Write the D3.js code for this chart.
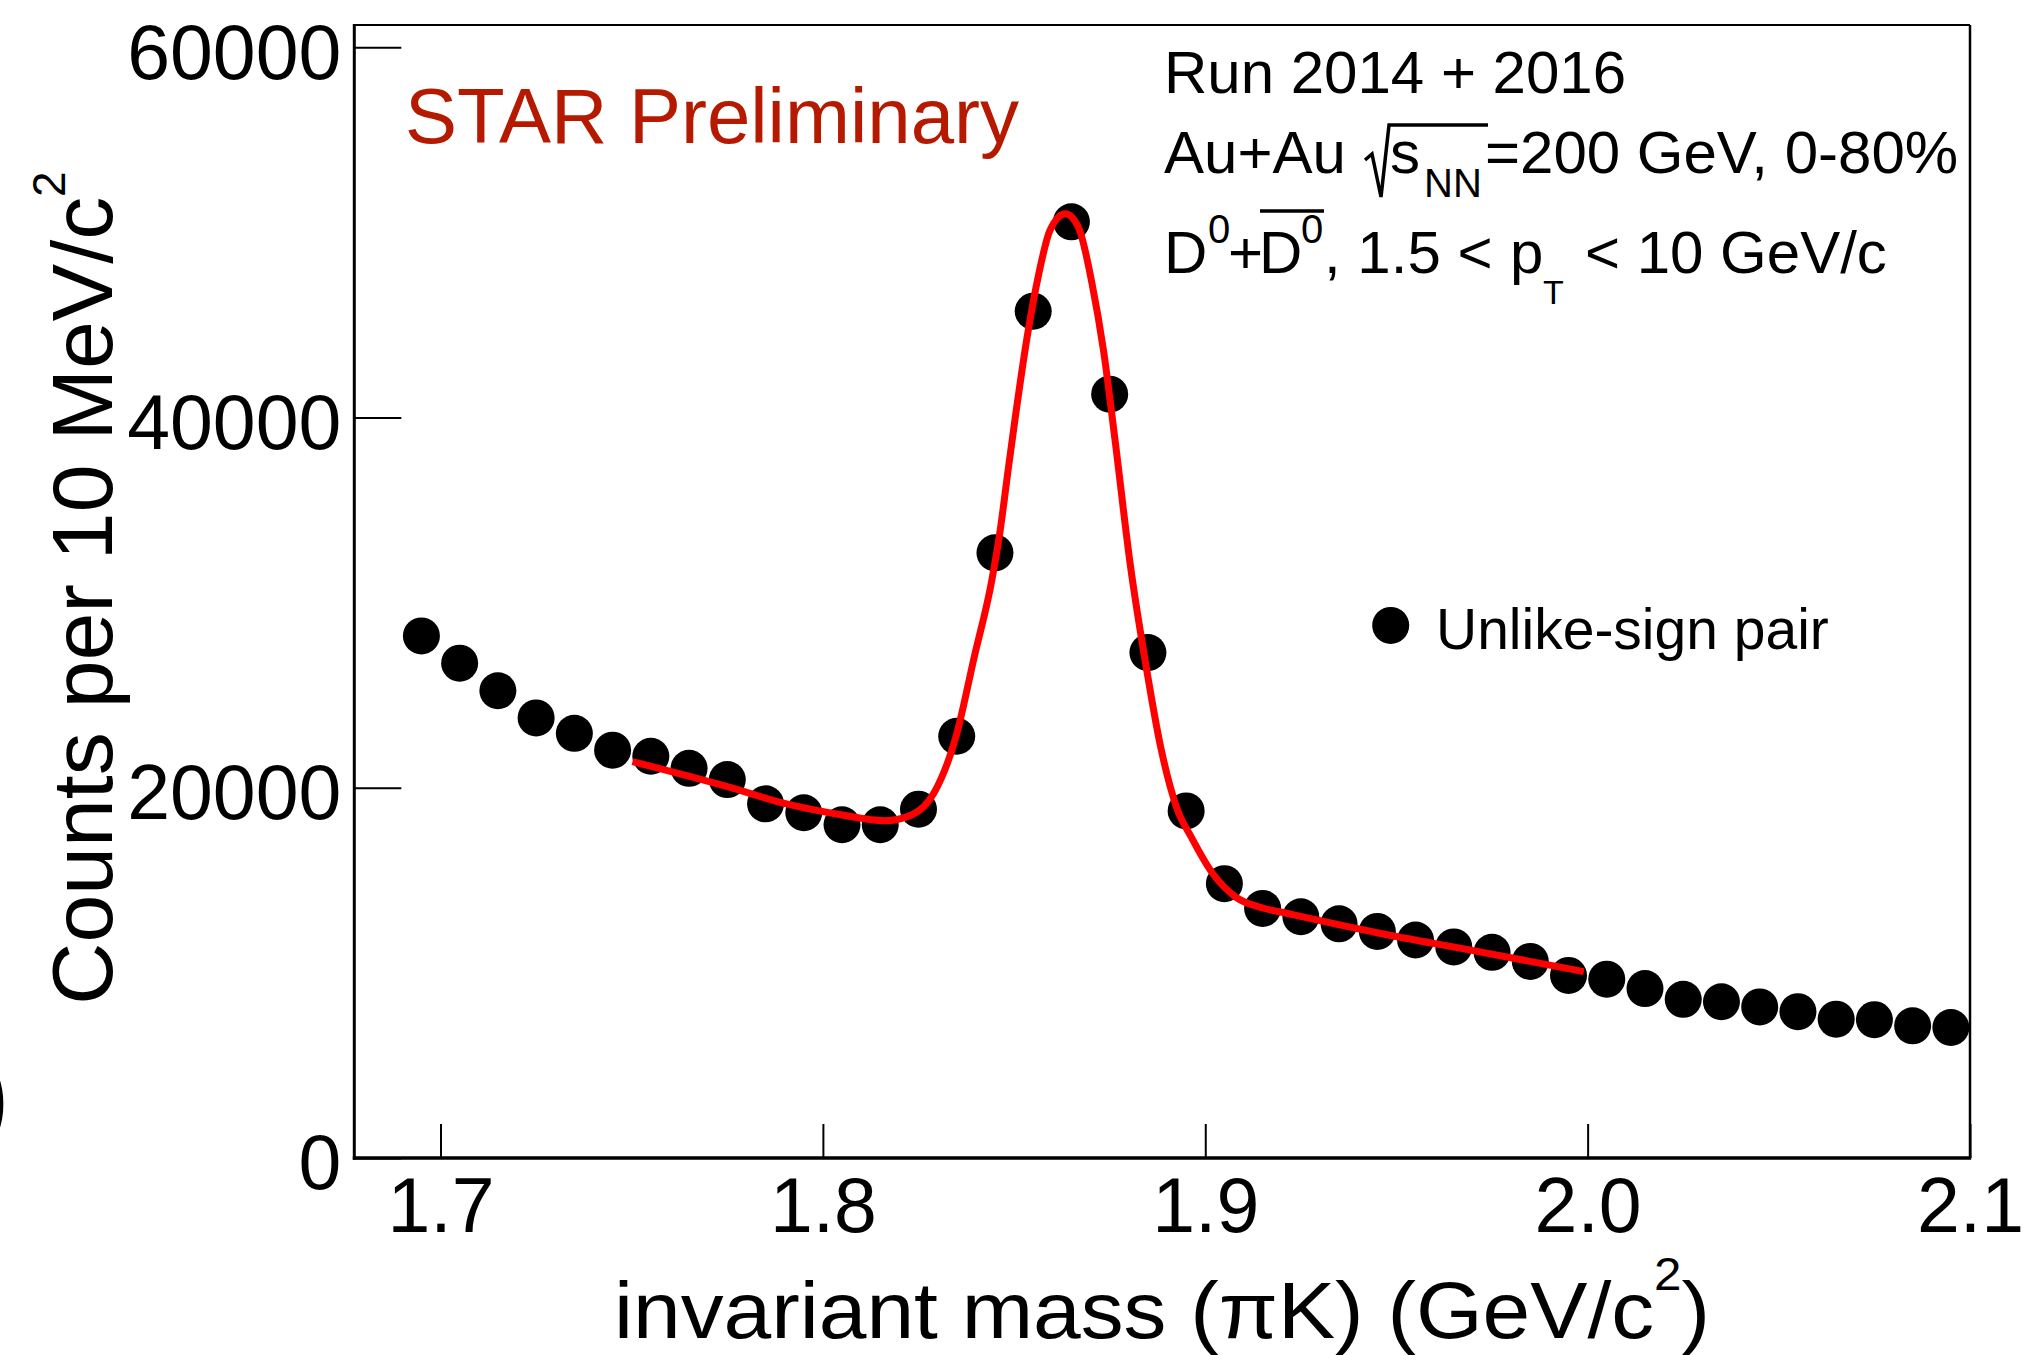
<!DOCTYPE html>
<html>
<head>
<meta charset="utf-8">
<script src="https://cdn.jsdelivr.net/npm/d3@7"></script>
<style>
  html, body { margin: 0; padding: 0; background: #fff; }
  svg { display: block; }
  text { font-family: "Liberation Sans", Arial, Helvetica, sans-serif; }
</style>
</head>
<body>
<svg id="chart" width="2039" height="1355"></svg>
<script>
// ---- data ----
const massBins = [1.695, 1.705, 1.715, 1.725, 1.735, 1.745, 1.755, 1.765, 1.775, 1.785,
                  1.795, 1.805, 1.815, 1.825, 1.835, 1.845, 1.855, 1.865, 1.875, 1.885,
                  1.895, 1.905, 1.915, 1.925, 1.935, 1.945, 1.955, 1.965, 1.975, 1.985,
                  1.995, 2.005, 2.015, 2.025, 2.035, 2.045, 2.055, 2.065, 2.075, 2.085, 2.095];
const unlikeSignCounts = [28200, 26730, 25240, 23770, 22940, 22030, 21700, 21050, 20440, 19130,
                          18650, 18000, 18000, 18840, 22780, 32690, 45740, 50570, 41260, 27300,
                          18750, 14820, 13480, 13030, 12650, 12240, 11775, 11400, 11110, 10620,
                          9860, 9660, 9150, 8570, 8440, 8160, 7904, 7500, 7470, 7140, 7050];
// fit curve (Gaussian + background)
const fitMass = [1.7502, 1.775, 1.7905, 1.805, 1.8162, 1.8232, 1.829, 1.8348, 1.8396, 1.8442,
                 1.8464, 1.8484, 1.8503, 1.8534, 1.8564, 1.8594, 1.8634, 1.8669, 1.8704, 1.8734,
                 1.8764, 1.8804, 1.8844, 1.8884, 1.8924, 1.8967, 1.9019, 1.9078, 1.9153, 1.9212,
                 1.9449, 1.9701, 1.999];
const fitCounts = [21410, 20060, 19125, 18530, 18220, 18530, 19700, 22760, 27080, 31230,
                   33955, 37090, 39985, 44330, 47700, 50110, 51000, 50240, 47215, 43600,
                   38790, 32036, 26720, 22140, 19000, 17200, 15380, 14120, 13490, 13220,
                   12170, 11200, 10065];
const xTicks = [1.7, 1.8, 1.9, 2.0, 2.1];
const yTicks = [0, 20000, 40000, 60000];
const xDomain = [1.67745, 2.1];
const yDomain = [0, 61200];

// ---- layout ----
const L = 354.3, R = 1970, T = 25, B = 1158;
const svg = d3.select("#chart");
svg.append("rect").attr("width", 2039).attr("height", 1355).attr("fill", "#fff");

const x = d3.scaleLinear().domain(xDomain).range([L, R]);
const y = d3.scaleLinear().domain(yDomain).range([B, T]);

// axes
const gx = svg.append("g").attr("transform", `translate(0,${B})`)
  .call(d3.axisBottom(x).tickValues(xTicks).tickFormat(d3.format(".1f"))
        .tickSize(-34).tickPadding(19));
gx.select(".domain").remove();
gx.selectAll(".tick line").attr("stroke", "#000").attr("stroke-width", 2);
gx.selectAll(".tick text").attr("font-size", 77).attr("fill", "#000")
  .style("font-family", '"Liberation Sans", Arial, sans-serif');

const gy = svg.append("g").attr("transform", `translate(${L},0)`)
  .call(d3.axisLeft(y).tickValues(yTicks).tickFormat(d3.format("d"))
        .tickSize(-47).tickPadding(13));
gy.select(".domain").remove();
gy.selectAll(".tick line").attr("stroke", "#000").attr("stroke-width", 2);
gy.selectAll(".tick text").attr("font-size", 77).attr("fill", "#000").attr("dy", "0.40em")
  .style("font-family", '"Liberation Sans", Arial, sans-serif');

// frame
svg.append("line").attr("x1", L).attr("x2", R).attr("y1", T).attr("y2", T)
  .attr("stroke", "#000").attr("stroke-width", 2);
svg.append("line").attr("x1", R).attr("x2", R).attr("y1", T).attr("y2", B)
  .attr("stroke", "#000").attr("stroke-width", 2.5);
svg.append("line").attr("x1", L).attr("x2", L).attr("y1", T - 1).attr("y2", B + 1.7)
  .attr("stroke", "#000").attr("stroke-width", 3);
svg.append("line").attr("x1", L - 1.5).attr("x2", R + 1.2).attr("y1", B).attr("y2", B)
  .attr("stroke", "#000").attr("stroke-width", 3.5);

// data points
svg.append("g").selectAll("circle")
  .data(massBins.map((m, i) => [m, unlikeSignCounts[i]]))
  .join("circle")
  .attr("cx", d => x(d[0])).attr("cy", d => y(d[1])).attr("r", 18.5).attr("fill", "#000");

// fit curve
const line = d3.line().x(d => x(d[0])).y(d => y(d[1])).curve(d3.curveMonotoneX);
svg.append("path")
  .datum(fitMass.map((m, i) => [m, fitCounts[i]]))
  .attr("d", line).attr("fill", "none").attr("stroke", "#ff0000").attr("stroke-width", 7)
  .attr("stroke-linejoin", "round");

// axis titles
const xt = svg.append("text").attr("x", 1162).attr("y", 1338).attr("text-anchor", "middle")
  .attr("font-size", 80).attr("fill", "#000")
  .attr("textLength", 1096).attr("lengthAdjust", "spacingAndGlyphs");
xt.append("tspan").text("invariant mass (\u03C0K) (GeV/c");
xt.append("tspan").attr("font-size", 46).attr("dy", -48).text("2");
xt.append("tspan").attr("dy", 48).text(")");

const yt = svg.append("text").attr("transform", "translate(112,588) rotate(-90)")
  .attr("text-anchor", "middle").attr("font-size", 86).attr("fill", "#000");
yt.append("tspan").text("Counts per 10 MeV/c");
yt.append("tspan").attr("font-size", 46).attr("dy", -47).text("2");

// stray partial glyph at left edge
svg.append("text").attr("x", -27).attr("y", 1133).attr("font-size", 112).attr("fill", "#000").text(")");

// STAR Preliminary
svg.append("text").attr("x", 405).attr("y", 142.7).attr("font-size", 78)
  .attr("fill", "#b51a00").text("STAR Preliminary");

// info text
const fs = 60, fsSub = 40;
svg.append("text").attr("x", 1164).attr("y", 93).attr("font-size", fs).attr("fill", "#000")
  .text("Run 2014 + 2016");

svg.append("text").attr("x", 1164).attr("y", 173).attr("font-size", fs).attr("fill", "#000").text("Au+Au");
svg.append("path").attr("d", "M1365,160 L1372,154 L1381,197 L1389,125 L1488,125")
  .attr("fill", "none").attr("stroke", "#000").attr("stroke-width", 3.5).attr("stroke-linejoin", "miter");
svg.append("text").attr("x", 1390).attr("y", 173).attr("font-size", fs).attr("fill", "#000").text("s");
svg.append("text").attr("x", 1424).attr("y", 197).attr("font-size", fsSub).attr("fill", "#000").text("NN");
svg.append("text").attr("x", 1485).attr("y", 173).attr("font-size", fs).attr("fill", "#000").text("=200 GeV, 0-80%");

svg.append("text").attr("x", 1164).attr("y", 273).attr("font-size", fs).attr("fill", "#000").text("D");
svg.append("text").attr("x", 1208).attr("y", 243).attr("font-size", fsSub).attr("fill", "#000").text("0");
svg.append("text").attr("x", 1228).attr("y", 273).attr("font-size", fs).attr("fill", "#000").text("+");
svg.append("text").attr("x", 1259).attr("y", 273).attr("font-size", fs).attr("fill", "#000").text("D");
svg.append("text").attr("x", 1301).attr("y", 243).attr("font-size", fsSub).attr("fill", "#000").text("0");
svg.append("line").attr("x1", 1260).attr("x2", 1324).attr("y1", 211).attr("y2", 211)
  .attr("stroke", "#000").attr("stroke-width", 3.5);
svg.append("text").attr("x", 1324).attr("y", 273).attr("font-size", fs).attr("fill", "#000").text(", 1.5 <");
svg.append("text").attr("x", 1510).attr("y", 273).attr("font-size", fs).attr("fill", "#000").text("p");
svg.append("text").attr("x", 1543).attr("y", 304).attr("font-size", 34).attr("fill", "#000").text("T");
svg.append("text").attr("x", 1585).attr("y", 273).attr("font-size", fs).attr("fill", "#000")
  .text("< 10 GeV/c");

// legend
svg.append("circle").attr("cx", 1390.7).attr("cy", 625.4).attr("r", 18.5).attr("fill", "#000");
svg.append("text").attr("x", 1436).attr("y", 649).attr("font-size", 57).attr("fill", "#000")
  .text("Unlike-sign pair");
</script>
</body>
</html>
